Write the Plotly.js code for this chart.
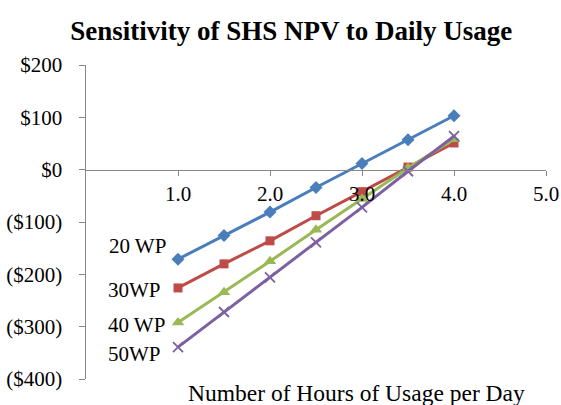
<!DOCTYPE html>
<html>
<head>
<meta charset="utf-8">
<script src="https://cdn.plot.ly/plotly-3.0.1.min.js"></script>
<style>html,body{margin:0;padding:0;background:#fff;}#chart{width:561px;height:405px;}</style>
</head>
<body>
<div id="chart"></div>
<script>
const hours = [1.0, 1.5, 2.0, 2.5, 3.0, 3.5, 4.0];
const seriesNames = ["20 WP", "30WP", "40 WP", "50WP"];
const npv20 = [-171, -126, -81, -34, 12, 57, 103];
const npv30 = [-226, -180, -136, -88, -42, 5, 51];
const npv40 = [-292, -234, -175, -115, -56, 3, 58];
const npv50 = [-339, -272, -206, -139, -72, -3, 64];
const yTickVals = [200, 100, 0, -100, -200, -300, -400];
const yTickText = ["$200", "$100", "$0", "($100)", "($200)", "($300)", "($400)"];
const xTickVals = [1, 2, 3, 4, 5];
const xTickText = ["1.0", "2.0", "3.0", "4.0", "5.0"];

const colors = ["#4a7ebb", "#be4b48", "#98b954", "#7d60a0"];
const symbols = ["diamond", "square", "triangle-up", "x-thin"];
const sizes = [10, 9, 11, 10];
const allData = [npv20, npv30, npv40, npv50];

const traces = allData.map((d, i) => ({
  x: hours, y: d, type: "scatter", mode: "lines+markers", name: seriesNames[i],
  line: {color: colors[i], width: 3},
  marker: {symbol: symbols[i], size: sizes[i], color: colors[i],
           line: {color: colors[i], width: i === 3 ? 1.8 : 0}},
  showlegend: false
}));

const font = "'Liberation Serif', 'Times New Roman', serif";
const labelX = [0.555, 0.525, 0.545, 0.53];
const labelY = [-145, -229, -296, -352];
const annotations = seriesNames.map((n, i) => ({
  x: labelX[i], y: labelY[i], xref: "x", yref: "y", text: n, showarrow: false,
  font: {family: font, size: 21, color: "#000"}
}));
annotations.push({x: -0.054, y: -52, xref: "x", yref: "y", text: "-", showarrow: false,
  font: {family: font, size: 21, color: "#000"}});
annotations.push({x: 0.589, y: -0.045, xref: "paper", yref: "paper", yanchor: "middle", text: "Number of Hours of Usage per Day",
  showarrow: false, font: {family: font, size: 23.5, color: "#000"}});

const layout = {
  width: 561, height: 405,
  margin: {l: 86, r: 15, t: 65, b: 26},
  paper_bgcolor: "#fff", plot_bgcolor: "#fff",
  font: {family: font, size: 21, color: "#000"},
  title: {text: "<b>Sensitivity of SHS NPV to Daily Usage</b>", x: 0.519, xanchor: "center", y: 0.925, yanchor: "middle",
          font: {family: font, size: 27, color: "#000"}},
  xaxis: {range: [0, 5], tickvals: xTickVals, ticktext: xTickText, showgrid: false, zeroline: false,
          showline: true, linecolor: "#878787", linewidth: 1.5, ticks: "outside", ticklen: 5, tickcolor: "#878787",
          anchor: "free", position: 2/3, tickfont: {family: font, size: 21, color: "#000"}},
  yaxis: {range: [-400, 200], tickvals: yTickVals, ticktext: yTickText, showgrid: false, zeroline: false,
          showline: true, linecolor: "#878787", linewidth: 1.5, ticks: "outside", ticklen: 6, tickcolor: "#878787",
          ticklabelstandoff: 12, tickfont: {family: font, size: 21, color: "#000"}},
  annotations: annotations
};
Plotly.newPlot("chart", traces, layout, {displayModeBar: false, staticPlot: true});
</script>
</body>
</html>
